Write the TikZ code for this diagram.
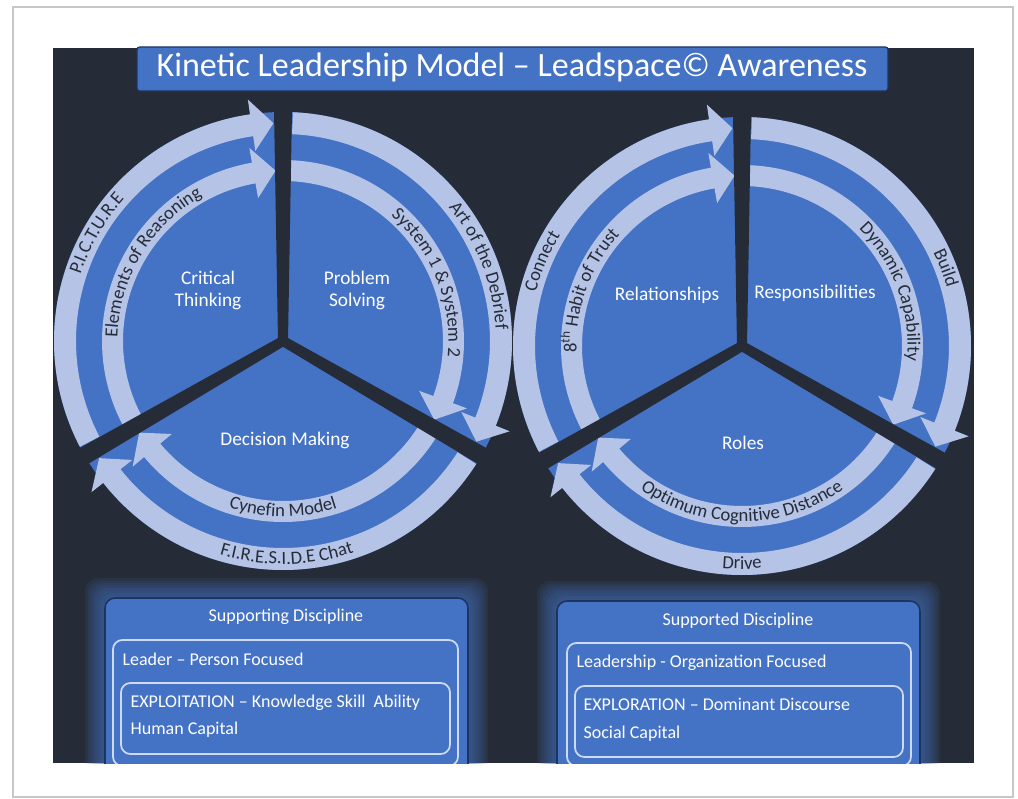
\documentclass[tikz,border=0pt]{standalone}
\usepackage{fontspec}
\setmainfont{Carlito}
\usetikzlibrary{decorations.text}

\definecolor{kdark}{RGB}{38,44,55}
\definecolor{kblue}{RGB}{68,114,196}
\definecolor{klight}{RGB}{180,195,230}
\definecolor{kedge}{RGB}{30,52,95}
\definecolor{kline}{RGB}{205,218,242}

\newcommand{\titlefont}{\fontsize{25.5}{30}\selectfont}
\newcommand{\hubfont}{\fontsize{14.5}{16.5}\selectfont}
\newcommand{\arcfont}{\fontsize{14}{16}\selectfont}
\newcommand{\boxfont}{\fontsize{13.5}{16}\selectfont}

% clockwise band with head: start angle, tip angle, inner radius, outer radius
\newcommand{\cyclearrow}[4]{%
  \pgfmathsetmacro{\arhead}{#2+2521/(#3+#4)}%
  \pgfmathsetmacro{\armid}{(#3+#4)/2}%
  \fill[band] ({#1}:{#3}) arc[start angle={#1}, end angle=\arhead, radius={#3}]
    -- ({\arhead}:{#3-15}) -- ({#2}:{\armid}) -- ({\arhead}:{#4+15})
    -- ({\arhead}:{#4}) arc[start angle=\arhead, end angle={#1}, radius={#4}] -- cycle ;}
% text on a band: centre angle, baseline radius, text
\newcommand{\cwlabel}[3]{%
  \path[decorate, decoration={text along path, text align=center, text color=kdark, text={|\arcfont|#3}}]
    ({#1+60}:{#2}) arc[start angle={#1+60}, end angle={#1-60}, radius={#2}] ;}
\newcommand{\ccwlabel}[3]{%
  \path[decorate, decoration={text along path, text align=center, text color=kdark, text={|\arcfont|#3}}]
    ({#1-60}:{#2}) arc[start angle={#1-60}, end angle={#1+60}, radius={#2}] ;}

\tikzset{every picture/.style={line width=0.9pt}}
\tikzset{band/.style={fill=klight},
  spoke/.style={fill=kdark},
  discbox/.style={fill=kblue, draw=kedge, line width=1.2, rounded corners=7.5pt},
  glowbox/.style={fill=kblue, opacity=0.11, rounded corners=10pt},
  innerbox/.style={draw=kline, line width=1.3, rounded corners=7pt},
  hublabel/.style={text=white, font=\hubfont, align=center, inner sep=0},
  boxlabel/.style={text=white, font=\boxfont, inner sep=0}}

\begin{document}
\begin{tikzpicture}[x=0.75pt,y=0.75pt,yscale=-1,xscale=1]
\useasboundingbox (0,0) rectangle (1018,799);

%Shape: Rectangle [card]
\draw[black!22, line width=1.8, fill=white] (13,7) -- (1013,7) -- (1013,797) -- (13,797) -- cycle ;
%Shape: Rectangle [background]
\fill[kdark] (53,48) -- (974,48) -- (974,763) -- (53,763) -- cycle ;
%Shape: Rectangle [title]
\draw[kedge, fill=kblue, rounded corners=2pt] (137,47) -- (888,47) -- (888,91) -- (137,91) -- cycle ;

%Cycle: left
\begin{scope}[shift={(283,341)},yscale=-1]
\fill[kblue] (0,0) circle[radius=229] ;
\cyclearrow{207.5}{92.5}{207}{229}
\cyclearrow{207.5}{92.5}{160}{181}
\cyclearrow{87.5}{-27.5}{207}{229}
\cyclearrow{87.5}{-27.5}{160}{181}
\cyclearrow{-32.5}{-147.5}{207}{229}
\cyclearrow{-32.5}{-147.5}{160}{181}
\foreach \a in {90,210,330}
  \fill[spoke, rotate=\a] (0,-5) -- (231,-9) -- (231,9) -- (0,5) -- cycle ;
\cwlabel{150}{213}{{P.}{I.}{C.}{T.}{U.}{R.}E}
\cwlabel{149}{165.5}{Elements of Reasoning}
\cwlabel{21}{213}{Art of the Debrief}
\cwlabel{22}{165.5}{System 1 {\&} System 2}
\ccwlabel{270}{175.5}{Cynefin Model}
\ccwlabel{271}{223}{{F.}{I.}{R.}{E.}{S.}{I.}{D.}E Chat}
\end{scope}

%Cycle: right
\begin{scope}[shift={(742,346)},yscale=-1]
\fill[kblue] (0,0) circle[radius=229] ;
\cyclearrow{207.5}{92.5}{207}{229}
\cyclearrow{207.5}{92.5}{160}{181}
\cyclearrow{87.5}{-27.5}{207}{229}
\cyclearrow{87.5}{-27.5}{160}{181}
\cyclearrow{-32.5}{-147.5}{207}{229}
\cyclearrow{-32.5}{-147.5}{160}{181}
\foreach \a in {90,210,330}
  \fill[spoke, rotate=\a] (0,-5) -- (231,-9) -- (231,9) -- (0,5) -- cycle ;
\cwlabel{157}{213}{Connect}
\cwlabel{160}{165.5}{8{\textsuperscript{th}} Habit of Trust}
\cwlabel{20}{165.5}{Dynamic Capability}
\cwlabel{21}{213}{Build}
\ccwlabel{270}{175.5}{Optimum Cognitive Distance}
\ccwlabel{270}{223}{Drive}
\end{scope}

%Boxes: disciplines
\begin{scope}
\clip (53,48) -- (974,48) -- (974,763) -- (53,763) -- cycle ;
\foreach \g in {1,...,8} {
  \fill[glowbox] (105-2.5*\g,598-2.5*\g) rectangle (468+2.5*\g,775) ;
  \fill[glowbox] (557-2.5*\g,601-2.5*\g) rectangle (920+2.5*\g,775) ;
}
\draw[discbox] (105,598) -- (468,598) -- (468,780) -- (105,780) -- cycle ;
\draw[innerbox] (113,640) -- (458,640) -- (458,766) -- (113,766) -- cycle ;
\draw[innerbox] (121,683) -- (450,683) -- (450,754) -- (121,754) -- cycle ;
\draw[discbox] (557,601) -- (920,601) -- (920,780) -- (557,780) -- cycle ;
\draw[innerbox] (567,643) -- (911,643) -- (911,766) -- (567,766) -- cycle ;
\draw[innerbox] (575,686) -- (903,686) -- (903,757) -- (575,757) -- cycle ;
\end{scope}

% Text Node
\draw (512,67) node (title) [text=white, font=\titlefont] {Kinetic Leadership Model – Leadspace© Awareness};
% Text Node
\draw (208,290) node (critical) [hublabel] {Critical\\Thinking};
% Text Node
\draw (357,290) node (problem) [hublabel] {Problem\\Solving};
% Text Node
\draw (285,440) node (decision) [hublabel] {Decision Making};
% Text Node
\draw (667,295) node (relations) [hublabel] {Relationships};
% Text Node
\draw (815,293) node (responsib) [hublabel] {Responsibilities};
% Text Node
\draw (743,443) node (roles) [hublabel] {Roles};
% Text Node
\draw (286,617) node (supporting) [boxlabel] {Supporting Discipline};
% Text Node
\draw (122,659) node (leader) [boxlabel, anchor=west] {Leader – Person Focused};
% Text Node
\draw (130,703) node (exploit) [boxlabel, anchor=west] {EXPLOITATION – Knowledge Skill\ \ Ability};
% Text Node
\draw (130,730) node (human) [boxlabel, anchor=west] {Human Capital};
% Text Node
\draw (738,621) node (supported) [boxlabel] {Supported Discipline};
% Text Node
\draw (576,663) node (leadership) [boxlabel, anchor=west] {Leadership - Organization Focused};
% Text Node
\draw (583,704) node (explore) [boxlabel, anchor=west] {EXPLORATION – Dominant Discourse};
% Text Node
\draw (583,734) node (social) [boxlabel, anchor=west] {Social Capital};

\end{tikzpicture}
\end{document}
